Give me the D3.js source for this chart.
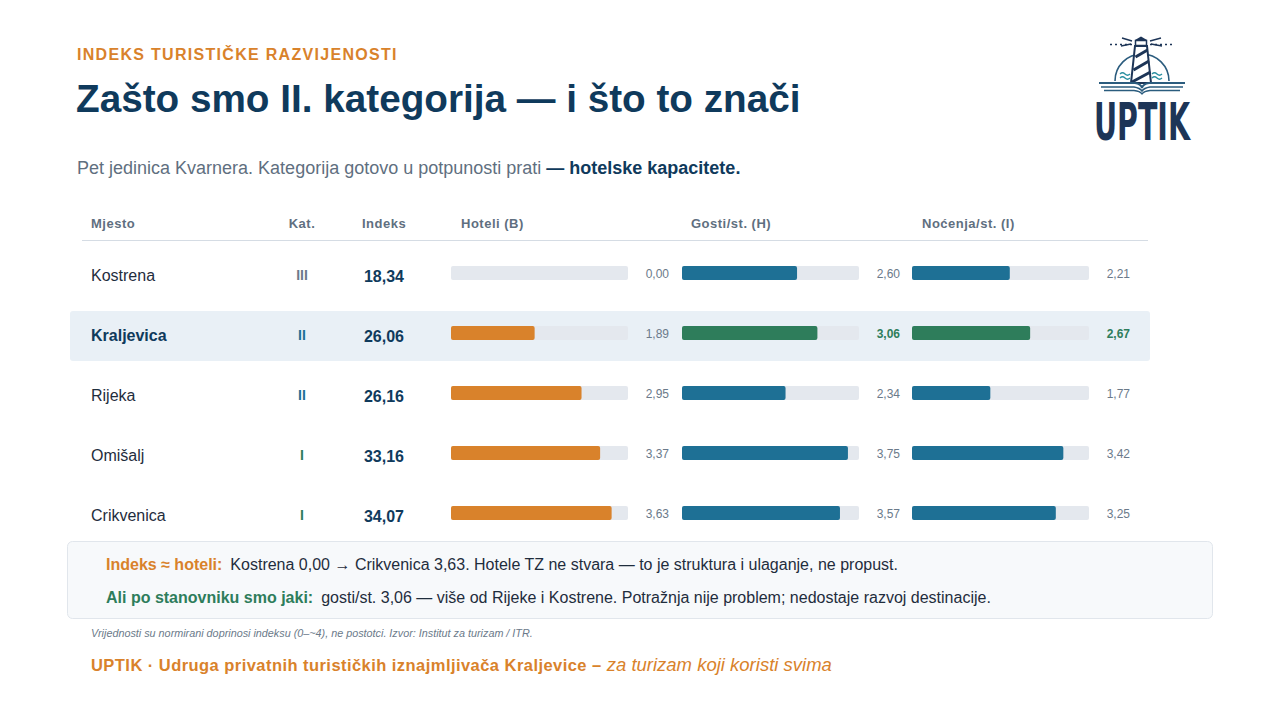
<!DOCTYPE html>
<html><head><meta charset="utf-8">
<script src="https://cdn.jsdelivr.net/npm/d3@7/dist/d3.min.js"></script>
<style>
html,body{margin:0;padding:0;background:#fff;}
svg{display:block;font-family:"Liberation Sans",Arial,sans-serif;}
</style></head>
<body>
<svg id="c" width="1280" height="720"></svg>
<script>
// ---- data ----
const places = ["Kostrena","Kraljevica","Rijeka","Omišalj","Crikvenica"];
const categories = ["III","II","II","I","I"];
const indeks = [18.34, 26.06, 26.16, 33.16, 34.07];
const hoteli = [0.00, 1.89, 2.95, 3.37, 3.63];
const gosti = [2.60, 3.06, 2.34, 3.75, 3.57];
const nocenja = [2.21, 2.67, 1.77, 3.42, 3.25];
const headers = ["Mjesto","Kat.","Indeks","Hoteli (B)","Gosti/st. (H)","Noćenja/st. (I)"];
const highlight = "Kraljevica";
const valueMax = 4;

const C = {
  navy:"#0f3a5c", orange:"#d9822b", blue:"#1e7095", green:"#2e7d5b",
  grey:"#6b7a8a", track:"#e4e8ee", rowHi:"#e9f0f6", text:"#1f2d3d", sub:"#5f6f80"
};
const catColor = {"III":"#6b7a8a","II":C.blue,"I":C.green};
const loc = d3.formatLocale({decimal:",",thousands:".",grouping:[3],currency:["","€"]});
const f2 = loc.format(".2f");

const svg = d3.select("#c");

// ---- header texts ----
svg.append("text").attr("x",77).attr("y",60).attr("fill",C.orange)
  .attr("font-size",16).attr("font-weight","bold").attr("letter-spacing",1.3)
  .text("INDEKS TURISTIČKE RAZVIJENOSTI");
svg.append("text").attr("x",76).attr("y",112).attr("fill",C.navy)
  .attr("font-size",38.7).attr("font-weight","bold")
  .text("Zašto smo II. kategorija — i što to znači");
const sub = svg.append("text").attr("x",77).attr("y",174).attr("font-size",18).attr("fill",C.sub);
sub.append("tspan").text("Pet jedinica Kvarnera. Kategorija gotovo u potpunosti prati ");
sub.append("tspan").attr("fill",C.navy).attr("font-weight","bold").text("— hotelske kapacitete.");

// ---- logo ----
const logo = svg.append("g");
const lc = "#1d3557", lc2 = "#2b5c7e";
logo.append("line").attr("x1",1110).attr("x2",1173).attr("y1",44.5).attr("y2",44.5)
  .attr("stroke",lc).attr("stroke-width",1.4).attr("stroke-dasharray","2,3");
// arch
logo.append("path").attr("d","M1115,81 A27,27 0 0 1 1169,81").attr("fill","none").attr("stroke",lc2).attr("stroke-width",1.6);
// rays
logo.append("path").attr("d","M1132,41 L1122,38 M1131,44 L1121,46 M1150,41 L1161,38 M1151,44 L1162,46")
  .attr("stroke",lc).attr("stroke-width",1.4);
// lantern
logo.append("path").attr("d","M1135,40 L1141,36.5 L1147,40 Z").attr("fill",lc);
logo.append("rect").attr("x",1135.5).attr("y",40.5).attr("width",11).attr("height",5).attr("fill","#fff").attr("stroke",lc).attr("stroke-width",1.5);
// tower
logo.append("path").attr("d","M1135,46 L1147,46 L1151,83 L1131,83 Z").attr("fill","#fff").attr("stroke",lc).attr("stroke-width",2);
logo.append("path").attr("d","M1135.5,57 L1147.5,50 M1133.5,70 L1149,61 M1132,82 L1150.5,72").attr("stroke",lc).attr("stroke-width",3);
// waves
logo.append("path").attr("d","M1120,74 q2.5,-2.5 5,0 t5,0 M1120,78 q2.5,-2.5 5,0 t5,0 M1152,74 q2.5,-2.5 5,0 t5,0 M1152,78 q2.5,-2.5 5,0 t5,0")
  .attr("fill","none").attr("stroke","#2a8fa0").attr("stroke-width",1.3);
// book
logo.append("path").attr("d","M1099,83 L1135,83 Q1141,84 1142,88 Q1143,84 1149,83 L1185,83").attr("fill","none").attr("stroke",lc2).attr("stroke-width",1.8);
logo.append("path").attr("d","M1101,87 L1134,87 Q1140,88 1142,91 Q1144,88 1150,87 L1183,87").attr("fill","none").attr("stroke",lc2).attr("stroke-width",1.5);
logo.append("path").attr("d","M1104,90.5 L1134,90.5 Q1140,91 1142,94 Q1144,91 1150,90.5 L1180,90.5").attr("fill","none").attr("stroke",lc2).attr("stroke-width",1.3);
logo.append("text").attr("x",1142).attr("y",140).attr("text-anchor","middle")
  .attr("font-family","'Liberation Sans Narrow','DejaVu Sans Condensed',sans-serif")
  .attr("font-weight","bold").attr("font-size",52).attr("fill",lc)
  .attr("textLength",96).attr("lengthAdjust","spacingAndGlyphs").text("UPTIK");

// ---- table ----
const y = d3.scaleBand().domain(places).range([245,545]);
const cols = {name:91, kat:302, idx:384};
const barCols = [
  {key:"hoteli", vals:hoteli, x0:451, lab:669},
  {key:"gosti", vals:gosti, x0:682, lab:900},
  {key:"nocenja", vals:nocenja, x0:912, lab:1130}
];
const barW = 177;

// header row
const hx = [91, 302, 362, 461, 691, 922];
const ha = ["start","middle","start","start","start","start"];
svg.append("g").selectAll("text").data(headers).join("text")
  .attr("x",(d,i)=>hx[i]).attr("y",228).attr("text-anchor",(d,i)=>ha[i])
  .attr("font-size",13).attr("letter-spacing",0.5).attr("font-weight","bold").attr("fill",C.sub).text(d=>d);
svg.append("line").attr("x1",82).attr("x2",1148).attr("y1",240.5).attr("y2",240.5).attr("stroke","#d5dce4");

// highlight row
svg.append("rect").attr("x",70).attr("width",1080)
  .attr("y",y(highlight)+y.bandwidth()/2-24).attr("height",50).attr("rx",3).attr("fill",C.rowHi);

const rows = svg.append("g").selectAll("g").data(places).join("g")
  .attr("transform",d=>`translate(0,${y(d)+y.bandwidth()/2})`);

rows.append("text").attr("x",cols.name).attr("y",6).attr("font-size",16)
  .attr("font-weight",d=>d===highlight?"bold":"normal")
  .attr("fill",d=>d===highlight?C.navy:C.text).text(d=>d);
rows.append("text").attr("x",cols.kat).attr("y",5).attr("text-anchor","middle")
  .attr("font-size",14).attr("font-weight","bold")
  .attr("fill",(d,i)=>catColor[categories[i]]).text((d,i)=>categories[i]);
rows.append("text").attr("x",cols.idx).attr("y",7).attr("text-anchor","middle")
  .attr("font-size",16).attr("font-weight","bold").attr("fill",C.navy)
  .text((d,i)=>f2(indeks[i]));

barCols.forEach(bc=>{
  const x = d3.scaleLinear().domain([0,valueMax]).range([bc.x0, bc.x0+barW]);
  rows.append("rect").attr("x",x(0)).attr("y",-9).attr("width",x(valueMax)-x(0)).attr("height",14)
    .attr("rx",2).attr("fill",C.track);
  rows.append("rect").attr("x",x(0)).attr("y",-9)
    .attr("width",(d,i)=>x(bc.vals[i])-x(0)).attr("height",14).attr("rx",2)
    .attr("fill",d=>bc.key==="hoteli"?C.orange:(d===highlight?C.green:C.blue));
  rows.append("text").attr("x",bc.lab).attr("y",3).attr("text-anchor","end")
    .attr("font-size",12)
    .attr("font-weight",d=>(d===highlight&&bc.key!=="hoteli")?"bold":"normal")
    .attr("fill",d=>(d===highlight&&bc.key!=="hoteli")?C.green:C.grey)
    .text((d,i)=>f2(bc.vals[i]));
});

// ---- notes box ----
svg.append("rect").attr("x",67.5).attr("y",541.5).attr("width",1145).attr("height",77).attr("rx",5)
  .attr("fill","#f7f9fb").attr("stroke","#e1e6ec");
const n1 = svg.append("text").attr("x",106).attr("y",570).attr("font-size",16).attr("fill",C.text);
n1.append("tspan").attr("fill",C.orange).attr("font-weight","bold").text("Indeks ≈ hoteli:");
n1.append("tspan").attr("dx",8).text("Kostrena 0,00 → Crikvenica 3,63. Hotele TZ ne stvara — to je struktura i ulaganje, ne propust.");
const n2 = svg.append("text").attr("x",106).attr("y",603).attr("font-size",16).attr("fill",C.text);
n2.append("tspan").attr("fill",C.green).attr("font-weight","bold").text("Ali po stanovniku smo jaki:");
n2.append("tspan").attr("dx",8).text("gosti/st. 3,06 — više od Rijeke i Kostrene. Potražnja nije problem; nedostaje razvoj destinacije.");

svg.append("text").attr("x",91).attr("y",637).attr("font-size",10.8).attr("font-style","italic").attr("fill","#6b7a8a")
  .text("Vrijednosti su normirani doprinosi indeksu (0–~4), ne postotci. Izvor: Institut za turizam / ITR.");

const ft = svg.append("text").attr("x",91).attr("y",671).attr("font-size",16.5).attr("fill",C.orange);
ft.append("tspan").attr("font-weight","bold").attr("letter-spacing",0.45).text("UPTIK · Udruga privatnih turističkih iznajmljivača Kraljevice – ");
ft.append("tspan").attr("font-style","italic").attr("font-size",18.5).text("za turizam koji koristi svima");
</script>
</body></html>
